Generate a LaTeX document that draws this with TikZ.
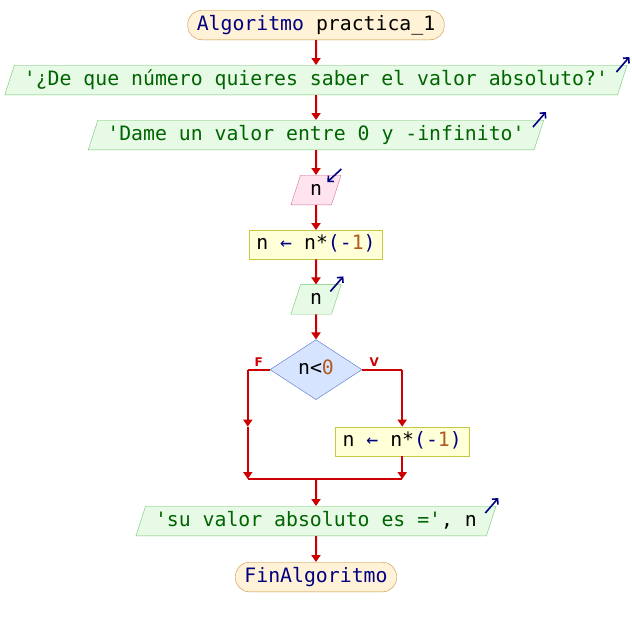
\documentclass[tikz,border=0pt]{standalone}
\usepackage{fontspec}
\setmonofont{DejaVu Sans Mono}
\setsansfont{DejaVu Sans}
\usetikzlibrary{arrows.meta,positioning,shapes.geometric,calc}

\definecolor{flowred}{HTML}{CC0000}
\definecolor{kwblue}{HTML}{000080}
\definecolor{strgreen}{HTML}{006400}
\definecolor{numbrown}{HTML}{B05A1E}
\definecolor{termfill}{HTML}{FFF2D6}
\definecolor{termline}{HTML}{C89040}
\definecolor{outfill}{HTML}{E6FAE6}
\definecolor{outline}{HTML}{70C870}
\definecolor{infill}{HTML}{FFE4F0}
\definecolor{inline}{HTML}{D070A0}
\definecolor{asgfill}{HTML}{FFFFD8}
\definecolor{asgline}{HTML}{C8C840}
\definecolor{condfill}{HTML}{D6E4FF}
\definecolor{condline}{HTML}{5070D0}

\newcommand{\pkw}[1]{\textcolor{kwblue}{#1}}
\newcommand{\pstr}[1]{\textcolor{strgreen}{#1}}
\newcommand{\pnum}[1]{\textcolor{numbrown}{#1}}

\begin{document}
\begin{tikzpicture}[x=1pt,y=-1pt,
		node distance=25pt,
		every node/.style={font=\ttfamily\fontsize{19.8}{20}\selectfont,
			text height=14.5pt,text depth=4.5pt,inner ysep=5.3pt},
		term/.style={rectangle,rounded corners=14pt,draw=termline,fill=termfill,inner xsep=9pt},
		outbox/.style={trapezium,trapezium left angle=72,trapezium right angle=108,
			draw=outline,fill=outfill,inner xsep=9.5pt},
		inbox/.style={trapezium,trapezium left angle=72,trapezium right angle=108,
			draw=inline,fill=infill,inner xsep=9.5pt},
		assign/.style={rectangle,draw=asgline,fill=asgfill,inner xsep=7pt,inner ysep=5pt},
		cond/.style={diamond,aspect=1.5,draw=condline,fill=condfill,inner sep=0pt,
			minimum width=92pt,minimum height=60pt},
		branch/.style={font=\sffamily\bfseries\fontsize{12}{12}\selectfont,text=flowred,
			text height=9pt,text depth=0pt,inner sep=2pt},
		link/.style={draw=flowred,line width=2pt},
		flow/.style={link,-{Triangle[width=9pt,length=7pt]}},
		io/.style={draw=kwblue,line width=1.6pt,-{Straight Barb[length=4pt,width=8pt]}}]

		\useasboundingbox (0,0) rectangle (632,625);

		\node [term] (start) at (316,25) {\pkw{Algoritmo} practica\_1};
		\node [outbox] (ask) [below=of start] {\pstr{'¿De que número quieres saber el valor absoluto?'}};
		\node [outbox] (hint) [below=of ask] {\pstr{'Dame un valor entre 0 y -infinito'}};
		\node [inbox] (readn) [below=of hint] {n};
		\node [assign] (neg1) [below=of readn] {n \pkw{←} n*\pkw{(-}\pnum{1}\pkw{)}};
		\node [outbox] (shown) [below=of neg1] {n};
		\node [cond] (test) [below=of shown] {n<\pnum{0}};

		% branch corners
		\coordinate (Fturn) at ($(test.west)+(-22,0)$);
		\coordinate (Vturn) at ($(test.east)+(40,0)$);
		\node [assign] (neg2) [below=57pt of Vturn] {n \pkw{←} n*\pkw{(-}\pnum{1}\pkw{)}};
		\coordinate (Vjoin) at ($(neg2.south)+(0,23)$);
		\coordinate (Fmid) at (Fturn |- neg2.north);
		\coordinate (Fjoin) at (Fturn |- Vjoin);
		\coordinate (join) at (test |- Vjoin);

		\node [outbox] (result) [below=27pt of join] {\pstr{'su valor absoluto es ='}, n};
		\node [term] (finish) [below=26pt of result] {\pkw{FinAlgoritmo}};

		% main column
		\draw [flow] (start) to (ask);
		\draw [flow] (ask) to (hint);
		\draw [flow] (hint) to (readn);
		\draw [flow] (readn) to (neg1);
		\draw [flow] (neg1) to (shown);
		\draw [flow] (shown) to (test);

		% false side
		\draw [link] (test.west) to node [branch,above] {F} (Fturn);
		\draw [flow] (Fturn) to (Fmid);
		\draw [flow] (Fmid) to (Fjoin);

		% true side
		\draw [link] (test.east) to node [branch,above,pos=0.3] {V} (Vturn);
		\draw [flow] (Vturn) to (neg2);
		\draw [flow] (neg2) to (Vjoin);

		% merge
		\draw [link] (Fjoin) to (Vjoin);
		\draw [flow] (join) to (result);
		\draw [flow] (result) to (finish);

		% in/out marks
		\draw [io] ($(ask.top right corner)+(-11,7)$) to ++(13,-15);
		\draw [io] ($(hint.top right corner)+(-11,7)$) to ++(13,-15);
		\draw [io] ($(shown.top right corner)+(-11,7)$) to ++(13,-15);
		\draw [io] ($(result.top right corner)+(-11,7)$) to ++(13,-15);
		\draw [io] ($(readn.top right corner)+(0,-6)$) to ++(-14,13);
	\end{tikzpicture}
\end{document}
